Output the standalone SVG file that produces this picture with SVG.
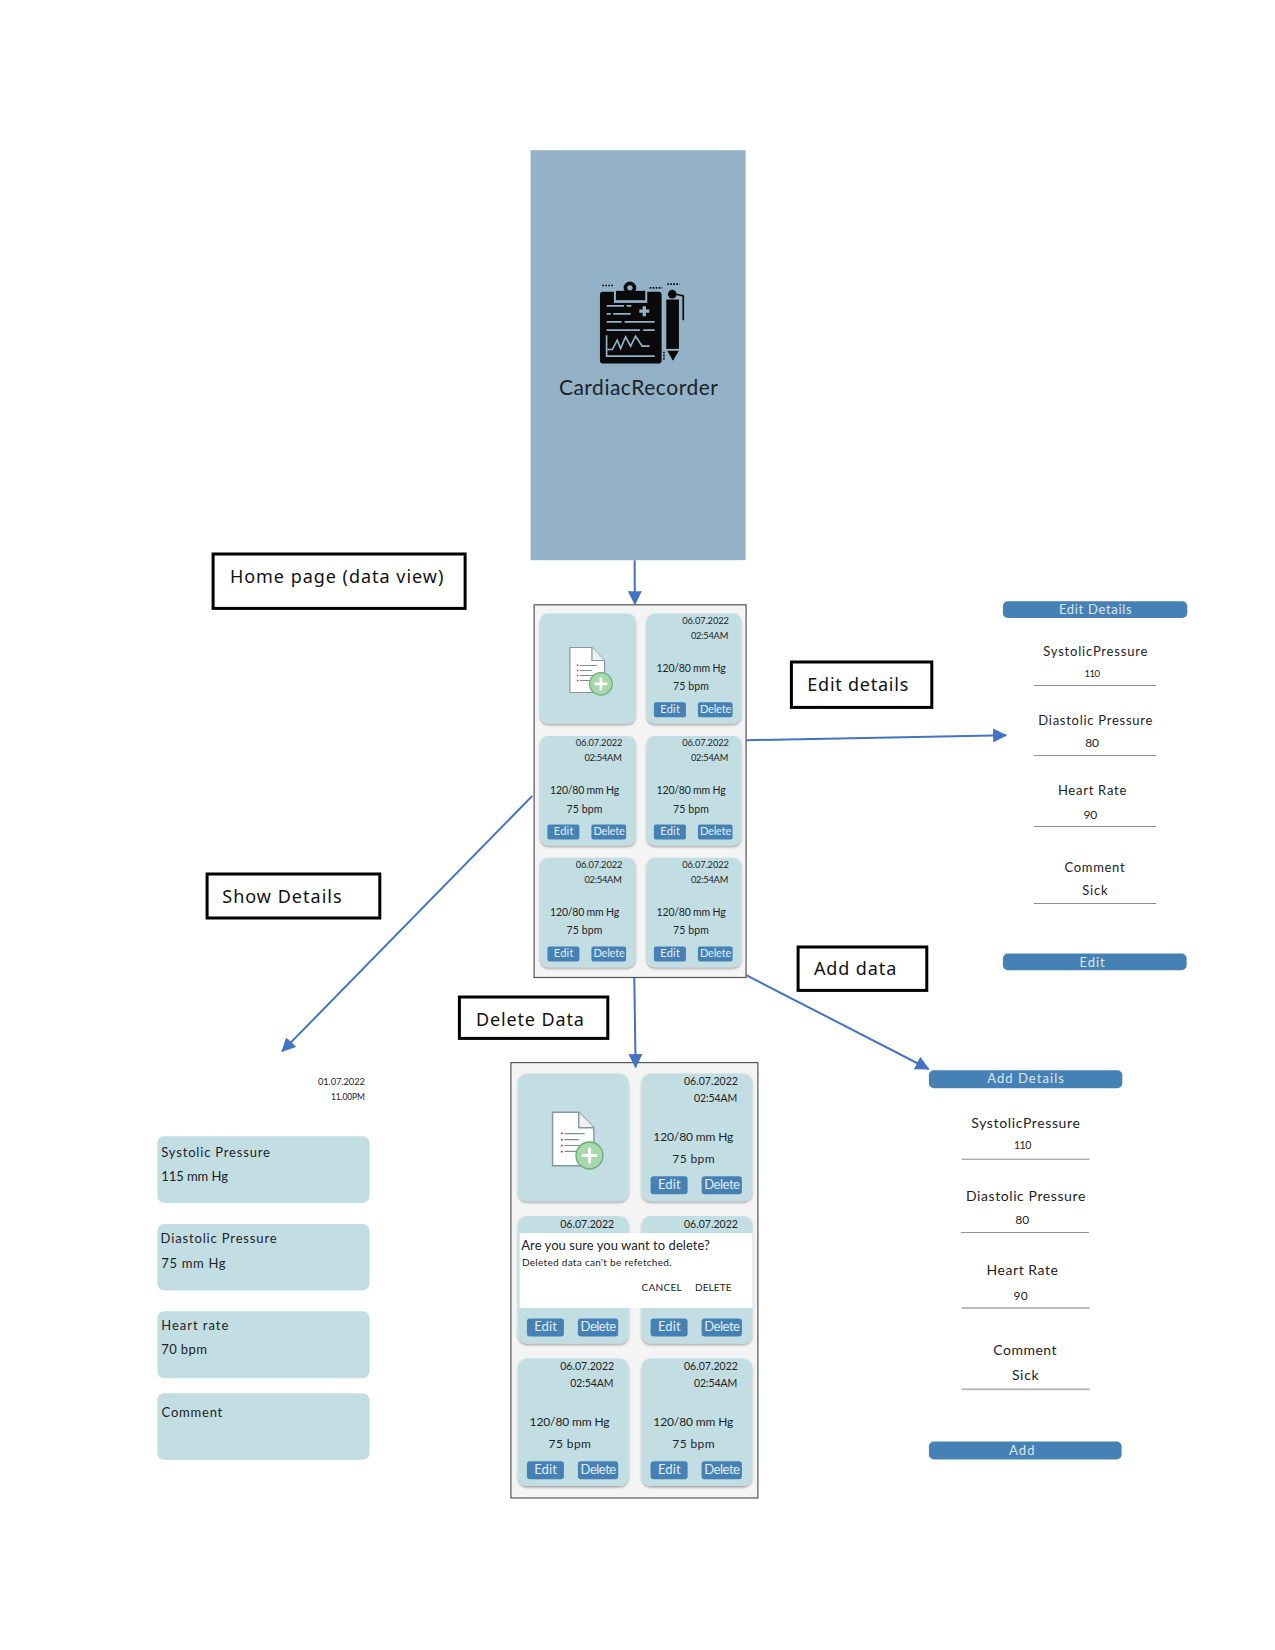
<svg xmlns="http://www.w3.org/2000/svg" xmlns:xlink="http://www.w3.org/1999/xlink" width="1275" height="1650" viewBox="0 0 1275 1650">
<style>
text{font-family:"Lato","Noto Sans",sans-serif;fill:#1c2226;font-weight:400}
.lbl{font-family:"Noto Sans","Open Sans",sans-serif;font-size:18px;fill:#111;font-weight:400}
.box{fill:#fff;stroke:#000;stroke-width:3}
.frame{fill:#f4f4f4;stroke:#555;stroke-width:1.2}
.card{fill:#c3dee3;filter:url(#sh)}
.plain{fill:#c3dee3}
.btn{fill:#4681b5}
.bt{fill:#e2eef5;font-size:11px}
.bt2{fill:#e2eef5;font-size:13px}
.bl{fill:#d9e8f2;font-size:13px}
.s1{font-size:9.3px}
.s2{font-size:10.5px}
.s3{font-size:12px}
.w3{font-size:13px}
.w4{font-size:14px}
.rule{stroke:#8f8f8f;stroke-width:1}
.rule2{stroke:#bbb;stroke-width:2}
.con{fill:none;stroke:#4472c4;stroke-width:2;marker-end:url(#ah)}
.lg{fill:none;stroke:#93b2c8;stroke-width:5}
.dot{fill:none;stroke:#0a0a0a;stroke-width:5;stroke-dasharray:5 4}
</style>
<defs>
<marker id="ah" markerUnits="userSpaceOnUse" markerWidth="16" markerHeight="16" refX="13" refY="7" orient="auto"><path d="M0,0 L14,7 L0,14 Z" fill="#4472c4"/></marker>
<filter id="sh" x="-10%" y="-10%" width="120%" height="120%"><feDropShadow dx="0" dy="1.5" stdDeviation="1.2" flood-color="#000" flood-opacity=".35"/></filter>
<g id="addicon">
<path d="M0,0 H22 L34.7,13 V45 H0 Z" fill="#fff" stroke="#8795a5" stroke-width="1.2"/>
<path d="M22,0 V13 H34.7" fill="#eef1f4" stroke="#8795a5" stroke-width="1.2"/>
<path d="M10,18 H27 M10,23 H22 M10,28 H27 M10,33 H22" stroke="#7f8c9a" stroke-width="1" fill="none"/>
<path d="M7.7,17 v1.5 M7.7,22.3 v1.5 M7.7,27.3 v1.5 M7.7,32.3 v1.5" stroke="#c0392b" stroke-width="1.5"/>
<circle cx="31" cy="36.4" r="11.3" fill="#a7d8a9" stroke="#6dab7e" stroke-width="1.2"/>
<path d="M24.5,36.4 H37.5 M31,29.9 V42.9" stroke="#fff" stroke-width="2.6"/>
</g>
</defs>
<rect width="1275" height="1650" fill="#fff"/>
<g transform="translate(.6,.2)">

<g id="splash">
<rect x="530" y="150" width="215" height="410" fill="#93b2c8"/>
<g transform="translate(500,130) scale(.33333)">
<rect x="298" y="485" width="185" height="215" rx="9" fill="#0a0a0a"/>
<rect x="340" y="478" width="100" height="40" fill="#93b2c8"/>
<rect x="346" y="482" width="88" height="28" fill="#0a0a0a"/>
<circle cx="388" cy="473" r="19" fill="#0a0a0a"/>
<circle cx="388" cy="473" r="8" fill="#93b2c8"/>
<path class="lg" d="M318,527 H370 M378,527 H392 M318,551 H330 M338,551 H390 M318,575 H363 M372,575 H462 M318,600 H418 M428,600 H462"/>
<path class="lg" d="M431,528 V558 M416,543 H446" style="stroke-width:10"/>
<path class="lg" d="M318,615 V678 H462"/>
<path class="lg" d="M320,658 H335 L350,630 L360,655 L375,620 L390,648 L405,618 L425,648 H447"/>
<circle cx="515" cy="492" r="13" fill="#0a0a0a"/>
<rect x="497" y="508" width="38" height="148" fill="#0a0a0a"/>
<path d="M500,662 H535 L517,692 Z" fill="#0a0a0a"/>
<path d="M527,492 L548,497 V570" fill="none" stroke="#0a0a0a" stroke-width="5"/>
<path class="dot" d="M305,466 H340 M447,473 H485 M500,462 H537 M490,665 V690"/>
</g>
<text x="558.3" y="395" font-size="21" textLength="159" fill="#1f2a35">CardiacRecorder</text>
</g>

<g id="label-home"><rect class="box" x="212.5" y="553.8" width="252" height="54.4"/><text class="lbl" x="229.3" y="582.7" textLength="213.4">Home page (data view)</text></g>
<g id="label-edit"><rect class="box" x="790.8" y="661.8" width="140.4" height="45.4"/><text class="lbl" x="806.7" y="690.7" textLength="101">Edit details</text></g>
<g id="label-show"><rect class="box" x="206.5" y="873.8" width="172.7" height="44"/><text class="lbl" x="221.7" y="903" textLength="119.3">Show Details</text></g>
<g id="label-add"><rect class="box" x="797.5" y="946.8" width="128.7" height="43.4"/><text class="lbl" x="813.3" y="975.3" textLength="82.4">Add data</text></g>
<g id="label-delete"><rect class="box" x="458.8" y="996.8" width="148.4" height="41.4"/><text class="lbl" x="475.3" y="1026" textLength="108">Delete Data</text></g>

<g id="home-page">
<rect class="frame" x="533.5" y="604.6" width="212" height="372.7"/>
<g transform="translate(539.5,613.3)"><rect class="card" width="95.5" height="110" rx="8"/><use xlink:href="#addicon" href="#addicon" x="29.8" y="34"/></g>
<g transform="translate(646,613.3)"><rect class="card" width="94.7" height="110" rx="8"/><text class="s1" x="35.6" y="10.4" textLength="46.7">06.07.2022</text><text class="s1" x="44.3" y="25.4" textLength="37.4">02:54AM</text><text class="s2" x="10" y="58.4" textLength="69">120/80 mm Hg</text><text class="s2" x="26.3" y="76.7" textLength="36">75 bpm</text><rect class="btn" x="7.3" y="88.7" width="32" height="15" rx="2"/><rect class="btn" x="51.3" y="88.7" width="34.7" height="15" rx="2"/><text class="bt" x="13.7" y="99" textLength="19.6">Edit</text><text class="bt" x="53.3" y="99" textLength="31.4">Delete</text></g>
<g transform="translate(539.5,735.7)"><rect class="card" width="95.5" height="109.5" rx="8"/><text class="s1" x="35.6" y="10.4" textLength="46.7">06.07.2022</text><text class="s1" x="44.3" y="25.4" textLength="37.4">02:54AM</text><text class="s2" x="10" y="58.4" textLength="69">120/80 mm Hg</text><text class="s2" x="26.3" y="76.7" textLength="36">75 bpm</text><rect class="btn" x="7.3" y="88.7" width="32" height="15" rx="2"/><rect class="btn" x="51.3" y="88.7" width="34.7" height="15" rx="2"/><text class="bt" x="13.7" y="99" textLength="19.6">Edit</text><text class="bt" x="53.3" y="99" textLength="31.4">Delete</text></g>
<g transform="translate(646,735.7)"><rect class="card" width="94.7" height="109.5" rx="8"/><text class="s1" x="35.6" y="10.4" textLength="46.7">06.07.2022</text><text class="s1" x="44.3" y="25.4" textLength="37.4">02:54AM</text><text class="s2" x="10" y="58.4" textLength="69">120/80 mm Hg</text><text class="s2" x="26.3" y="76.7" textLength="36">75 bpm</text><rect class="btn" x="7.3" y="88.7" width="32" height="15" rx="2"/><rect class="btn" x="51.3" y="88.7" width="34.7" height="15" rx="2"/><text class="bt" x="13.7" y="99" textLength="19.6">Edit</text><text class="bt" x="53.3" y="99" textLength="31.4">Delete</text></g>
<g transform="translate(539.5,857.5)"><rect class="card" width="95.5" height="109.5" rx="8"/><text class="s1" x="35.6" y="10.4" textLength="46.7">06.07.2022</text><text class="s1" x="44.3" y="25.4" textLength="37.4">02:54AM</text><text class="s2" x="10" y="58.4" textLength="69">120/80 mm Hg</text><text class="s2" x="26.3" y="76.7" textLength="36">75 bpm</text><rect class="btn" x="7.3" y="88.7" width="32" height="15" rx="2"/><rect class="btn" x="51.3" y="88.7" width="34.7" height="15" rx="2"/><text class="bt" x="13.7" y="99" textLength="19.6">Edit</text><text class="bt" x="53.3" y="99" textLength="31.4">Delete</text></g>
<g transform="translate(646,857.5)"><rect class="card" width="94.7" height="109.5" rx="8"/><text class="s1" x="35.6" y="10.4" textLength="46.7">06.07.2022</text><text class="s1" x="44.3" y="25.4" textLength="37.4">02:54AM</text><text class="s2" x="10" y="58.4" textLength="69">120/80 mm Hg</text><text class="s2" x="26.3" y="76.7" textLength="36">75 bpm</text><rect class="btn" x="7.3" y="88.7" width="32" height="15" rx="2"/><rect class="btn" x="51.3" y="88.7" width="34.7" height="15" rx="2"/><text class="bt" x="13.7" y="99" textLength="19.6">Edit</text><text class="bt" x="53.3" y="99" textLength="31.4">Delete</text></g>
</g>

<g id="delete-page">
<rect class="frame" x="510.3" y="1062.4" width="247" height="435.4"/>
<g transform="translate(517.3,1073.3)"><rect class="card" width="110.7" height="127.7" rx="9"/><g transform="translate(34.7,38.7) scale(1.19)"><use xlink:href="#addicon" href="#addicon"/></g></g>
<g transform="translate(641,1073.3)"><rect class="card" width="110.7" height="127.7" rx="9"/><text class="s2" x="42.3" y="11.7" textLength="54">06.07.2022</text><text class="s2" x="52.3" y="28.4" textLength="43.4">02:54AM</text><text class="s3" x="11.7" y="67" textLength="80">120/80 mm Hg</text><text class="s3" x="30.7" y="89.5" textLength="42.3">75 bpm</text><rect class="btn" x="9" y="102.7" width="37" height="18" rx="3"/><rect class="btn" x="60" y="102.7" width="40.3" height="18" rx="3"/><text class="bt2" x="16.3" y="115.4" textLength="22.7">Edit</text><text class="bt2" x="62.7" y="115.4" textLength="35.6">Delete</text></g>
<g transform="translate(517.3,1215.7)"><rect class="card" width="110.7" height="127.7" rx="9"/><text class="s2" x="42.3" y="12" textLength="54">06.07.2022</text><rect class="btn" x="9" y="102.7" width="37" height="18" rx="3"/><rect class="btn" x="60" y="102.7" width="40.3" height="18" rx="3"/><text class="bt2" x="16.3" y="115.4" textLength="22.7">Edit</text><text class="bt2" x="62.7" y="115.4" textLength="35.6">Delete</text></g>
<g transform="translate(641,1215.7)"><rect class="card" width="110.7" height="127.7" rx="9"/><text class="s2" x="42.3" y="12" textLength="54">06.07.2022</text><rect class="btn" x="9" y="102.7" width="37" height="18" rx="3"/><rect class="btn" x="60" y="102.7" width="40.3" height="18" rx="3"/><text class="bt2" x="16.3" y="115.4" textLength="22.7">Edit</text><text class="bt2" x="62.7" y="115.4" textLength="35.6">Delete</text></g>
<g transform="translate(517.3,1358.3)"><rect class="card" width="110.7" height="127.5" rx="9"/><text class="s2" x="42.3" y="11.7" textLength="54">06.07.2022</text><text class="s2" x="52.3" y="28.4" textLength="43.4">02:54AM</text><text class="s3" x="11.7" y="67" textLength="80">120/80 mm Hg</text><text class="s3" x="30.7" y="89.5" textLength="42.3">75 bpm</text><rect class="btn" x="9" y="102.7" width="37" height="18" rx="3"/><rect class="btn" x="60" y="102.7" width="40.3" height="18" rx="3"/><text class="bt2" x="16.3" y="115.4" textLength="22.7">Edit</text><text class="bt2" x="62.7" y="115.4" textLength="35.6">Delete</text></g>
<g transform="translate(641,1358.3)"><rect class="card" width="110.7" height="127.5" rx="9"/><text class="s2" x="42.3" y="11.7" textLength="54">06.07.2022</text><text class="s2" x="52.3" y="28.4" textLength="43.4">02:54AM</text><text class="s3" x="11.7" y="67" textLength="80">120/80 mm Hg</text><text class="s3" x="30.7" y="89.5" textLength="42.3">75 bpm</text><rect class="btn" x="9" y="102.7" width="37" height="18" rx="3"/><rect class="btn" x="60" y="102.7" width="40.3" height="18" rx="3"/><text class="bt2" x="16.3" y="115.4" textLength="22.7">Edit</text><text class="bt2" x="62.7" y="115.4" textLength="35.6">Delete</text></g>
<g id="delete-dialog">
<rect x="519" y="1233" width="233" height="74.7" fill="#fff"/>
<text x="520.7" y="1250" font-size="13" textLength="188.6">Are you sure you want to delete?</text>
<text x="521.3" y="1266" font-size="10" textLength="149.7">Deleted data can't be refetched.</text>
<text x="641" y="1290.7" font-size="10" textLength="40">CANCEL</text>
<text x="694.3" y="1290.7" font-size="10" textLength="36.7">DELETE</text>
</g>
</g>

<g id="edit-details">
<rect class="btn" x="1002.3" y="601" width="184.4" height="16.7" rx="5"/>
<text class="bl" x="1058.3" y="613.6" textLength="72.7">Edit Details</text>
<text class="w3" x="1042.7" y="656" textLength="104">SystolicPressure</text>
<text class="s2" x="1084" y="676.7" textLength="15.3" style="font-size:9.5px">110</text>
<line class="rule" x1="1033.3" y1="685.3" x2="1155.7" y2="685.3"/>
<text class="w3" x="1037.7" y="724.7" textLength="114">Diastolic Pressure</text>
<text class="s3" x="1084.7" y="747" textLength="13.6">80</text>
<line class="rule" x1="1033.3" y1="755.3" x2="1155.7" y2="755.3"/>
<text class="w3" x="1057.3" y="795.3" textLength="68.4">Heart Rate</text>
<text class="s3" x="1083" y="819" textLength="13.7">90</text>
<line class="rule" x1="1033.3" y1="826.3" x2="1155.7" y2="826.3"/>
<text class="w3" x="1064" y="872" textLength="60">Comment</text>
<text class="w3" x="1081.7" y="895.3" textLength="25.3">Sick</text>
<line class="rule" x1="1033.3" y1="903.3" x2="1155.7" y2="903.3"/>
<rect class="btn" x="1002.3" y="953.3" width="183.7" height="16.7" rx="5"/>
<text class="bl" x="1079" y="966.7" textLength="25">Edit</text>
</g>

<g id="add-details">
<rect class="btn" x="928.3" y="1070" width="193.4" height="18" rx="5"/>
<text class="bl" x="986.7" y="1083.3" textLength="76.6">Add Details</text>
<text class="w4" x="970.7" y="1128.3" textLength="108.6">SystolicPressure</text>
<text class="s3" x="1013.3" y="1149.3" textLength="17.4" style="font-size:10.5px">110</text>
<line class="rule" x1="961" y1="1159" x2="1089" y2="1159"/>
<text class="w4" x="965.3" y="1200.7" textLength="119.4">Diastolic Pressure</text>
<text class="s3" x="1014.7" y="1224" textLength="14">80</text>
<line class="rule" x1="960.3" y1="1232.3" x2="1088.3" y2="1232.3"/>
<text class="w4" x="986" y="1275" textLength="71.3">Heart Rate</text>
<text class="s3" x="1013" y="1300" textLength="14">90</text>
<line class="rule2" x1="961" y1="1307.7" x2="1089" y2="1307.7"/>
<text class="w4" x="992.7" y="1355.3" textLength="63.3">Comment</text>
<text class="w4" x="1011.3" y="1379.7" textLength="26.7">Sick</text>
<line class="rule2" x1="961" y1="1389" x2="1089" y2="1389"/>
<rect class="btn" x="928.3" y="1441.3" width="192.7" height="18" rx="5"/>
<text class="bl" x="1008.3" y="1455" textLength="25.7">Add</text>
</g>

<g id="show-details">
<text class="s1" x="317.3" y="1085" textLength="47">01.07.2022</text>
<text class="s1" x="330.3" y="1099.7" textLength="34" style="font-size:8.5px">11.00PM</text>
<rect class="plain" x="156.7" y="1136" width="212.3" height="66.7" rx="7"/>
<text class="w3" x="160.7" y="1157.3" textLength="108.6">Systolic Pressure</text>
<text class="w3" x="160.7" y="1180.7" textLength="66.6">115 mm Hg</text>
<rect class="plain" x="156.7" y="1223.7" width="212.3" height="66.6" rx="7"/>
<text class="w3" x="160" y="1243.3" textLength="116">Diastolic Pressure</text>
<text class="w3" x="160.7" y="1267.7" textLength="64.3">75 mm Hg</text>
<rect class="plain" x="156.7" y="1311" width="212.3" height="67" rx="7"/>
<text class="w3" x="160.7" y="1330" textLength="67">Heart rate</text>
<text class="w3" x="160.7" y="1354.3" textLength="45.6">70 bpm</text>
<rect class="plain" x="156.7" y="1393" width="212.3" height="66.7" rx="7"/>
<text class="w3" x="161" y="1417" textLength="60.7">Comment</text>
</g>

<g id="connectors">
<line class="con" x1="634" y1="560" x2="634.3" y2="604"/>
<line class="con" x1="745.5" y1="740" x2="1005.5" y2="735"/>
<line class="con" x1="531.7" y1="795.7" x2="281.5" y2="1051.2"/>
<line class="con" x1="633.7" y1="977.5" x2="635" y2="1067"/>
<line class="con" x1="745.7" y1="975" x2="928" y2="1068.8"/>
</g>
</g>
</svg>
